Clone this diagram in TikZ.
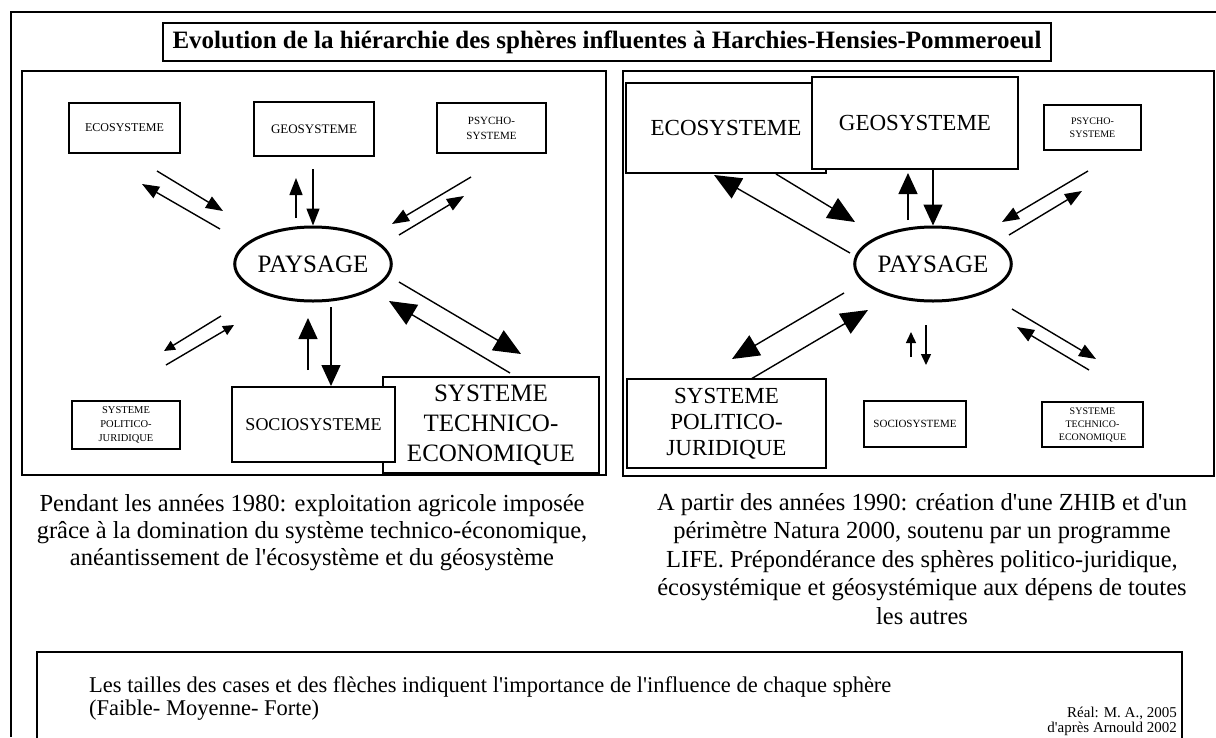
\documentclass[tikz,border=0pt]{standalone}
\usepackage{fontspec}
\setmainfont{Liberation Serif}[Ligatures=TeXOff]
\usetikzlibrary{arrows.meta,shapes.geometric}
\tikzset{
  frame/.style={draw, line width=1.5pt},
  sbox/.style={draw, line width=1.2pt, fill=white, inner sep=0pt, align=center},
  pays/.style={draw, ellipse, line width=3pt, inner sep=0pt, minimum width=156pt, minimum height=74pt, font=\fontsize{25}{25}\selectfont},
  lnk/.style={line width=1.4pt},
  tsm/.style={-{Triangle[length=11pt,width=10pt]}},
  tmd/.style={-{Triangle[length=17pt,width=13pt]}},
  tlg/.style={-{Triangle[length=21pt,width=19pt]}},
  tbg/.style={-{Triangle[length=27pt,width=23pt]}},
  captxt/.style={inner sep=0pt, align=center, anchor=north},
}
\begin{document}
\begin{tikzpicture}[x=1pt,y=-1pt]
\useasboundingbox (0,0) rectangle (1216,737);
% outer frame and panels
\draw[frame] (11,737) -- (11,12) -- (1216,12);
\node[draw, line width=1.5pt, inner sep=0pt, minimum width=888pt, minimum height=38pt,
      font=\fontsize{25}{25}\selectfont\bfseries] (title) at (607,42)
  {Evolution de la hiérarchie des sphères influentes à Harchies-Hensies-Pommeroeul};
\draw[frame] (22,71) rectangle (606,475);
\draw[frame] (623,71) rectangle (1214,476);
\draw[frame] (37,745) -- (37,652) -- (1182,652) -- (1182,745);

% ---------- left panel ----------
\node[sbox, minimum width=111pt, minimum height=50pt, font=\fontsize{12}{14}\selectfont] (Leco) at (124.5,128) {ECOSYSTEME};
\node[sbox, minimum width=120pt, minimum height=54pt, font=\fontsize{13}{15}\selectfont] (Lgeo) at (314,129) {GEOSYSTEME};
\node[sbox, minimum width=109pt, minimum height=50pt, font=\fontsize{11}{15}\selectfont] (Lpsy) at (491.5,128) {PSYCHO-\\SYSTEME};
\node[pays] (Lpay) at (313,264) {PAYSAGE};
\node[sbox, minimum width=108pt, minimum height=48pt, font=\fontsize{10.5}{14}\selectfont] (Lpol) at (126,425) {SYSTEME\\POLITICO-\\JURIDIQUE};
\node[sbox, minimum width=216pt, minimum height=96pt, font=\fontsize{25}{30}\selectfont] (Ltec) at (491,425) {SYSTEME\\TECHNICO-\\ECONOMIQUE};
\node[sbox, minimum width=163pt, minimum height=75pt, font=\fontsize{18}{18}\selectfont] (Lsoc) at (313.5,424.5) {SOCIOSYSTEME};

\coordinate (L1a) at (157,171); \coordinate (L1b) at (223,211);
\coordinate (L2a) at (220,229); \coordinate (L2b) at (142,184);
\coordinate (L3a) at (296,218); \coordinate (L3b) at (296,178);
\coordinate (L4a) at (313,169);
\coordinate (L5a) at (471,177); \coordinate (L5b) at (392,224);
\coordinate (L6a) at (399,235); \coordinate (L6b) at (464,196);
\coordinate (L7a) at (221,316); \coordinate (L7b) at (164,351);
\coordinate (L8a) at (166,365); \coordinate (L8b) at (234,325);
\coordinate (L9a) at (308,370); \coordinate (L9b) at (308,318);
\coordinate (L10a) at (331,307); \coordinate (L10b) at (331,386);
\coordinate (L11a) at (399,282); \coordinate (L11b) at (521,354);
\coordinate (L12a) at (510,373); \coordinate (L12b) at (389,301);

\draw[lnk,tmd] (L1a) -- (L1b);
\draw[lnk,tmd] (L2a) -- (L2b);
\draw[lnk,tmd] (L3a) -- (L3b);
\draw[lnk,tmd] (L4a) -- (Lpay.north);
\draw[lnk,tmd] (L5a) -- (L5b);
\draw[lnk,tmd] (L6a) -- (L6b);
\draw[lnk,tsm] (L7a) -- (L7b);
\draw[lnk,tsm] (L8a) -- (L8b);
\draw[lnk,tlg] (L9a) -- (L9b);
\draw[lnk,tlg] (L10a) -- (L10b);
\draw[lnk,tbg] (L11a) -- (L11b);
\draw[lnk,tbg] (L12a) -- (L12b);

% ---------- right panel ----------
\node[sbox, minimum width=200pt, minimum height=90pt, font=\fontsize{23}{23}\selectfont] (Reco) at (726,128) {ECOSYSTEME};
\node[sbox, minimum width=206pt, minimum height=92pt, font=\fontsize{23}{23}\selectfont] (Rgeo) at (915,123) {GEOSYSTEME};
\node[sbox, minimum width=97pt, minimum height=45pt, font=\fontsize{10}{13}\selectfont] (Rpsy) at (1092.5,127.5) {PSYCHO-\\SYSTEME};
\node[pays] (Rpay) at (933,264) {PAYSAGE};
\node[sbox, minimum width=199pt, minimum height=89pt, font=\fontsize{23}{26}\selectfont] (Rpol) at (726.5,423.5) {SYSTEME\\POLITICO-\\JURIDIQUE};
\node[sbox, minimum width=102pt, minimum height=46pt, font=\fontsize{11}{13}\selectfont] (Rsoc) at (915,424) {SOCIOSYSTEME};
\node[sbox, minimum width=101pt, minimum height=45pt, font=\fontsize{10}{13}\selectfont] (Rtec) at (1092.5,424.5) {SYSTEME\\TECHNICO-\\ECONOMIQUE};

\coordinate (R1a) at (850,253); \coordinate (R1b) at (714,175);
\coordinate (R2a) at (776,174); \coordinate (R2b) at (855,222);
\coordinate (R3a) at (908,220); \coordinate (R3b) at (908,173);
\coordinate (R4a) at (933,169);
\coordinate (R5a) at (1088,171); \coordinate (R5b) at (1002,222);
\coordinate (R6a) at (1009,235); \coordinate (R6b) at (1082,191);
\coordinate (R7a) at (844,293); \coordinate (R7b) at (732,359);
\coordinate (R8a) at (751,379); \coordinate (R8b) at (868,310);
\coordinate (R9a) at (911,357); \coordinate (R9b) at (911,332);
\coordinate (R10a) at (926,325); \coordinate (R10b) at (926,365);
\coordinate (R11a) at (1012,309); \coordinate (R11b) at (1096,359);
\coordinate (R12a) at (1089,370); \coordinate (R12b) at (1017,327);

\draw[lnk,tbg] (R1a) -- (R1b);
\draw[lnk,tbg] (R2a) -- (R2b);
\draw[lnk,tlg] (R3a) -- (R3b);
\draw[lnk,tlg] (R4a) -- (Rpay.north);
\draw[lnk,tmd] (R5a) -- (R5b);
\draw[lnk,tmd] (R6a) -- (R6b);
\draw[lnk,tbg] (R7a) -- (R7b);
\draw[lnk,tbg] (R8a) -- (R8b);
\draw[lnk,tsm] (R9a) -- (R9b);
\draw[lnk,tsm] (R10a) -- (R10b);
\draw[lnk,tmd] (R11a) -- (R11b);
\draw[lnk,tmd] (R12a) -- (R12b);

% ---------- captions ----------
\node[captxt, font=\fontsize{24.5}{27}\selectfont] (capL) at (312,494) {Pendant les années 1980: exploitation agricole imposée\\grâce à la domination du système technico-économique,\\anéantissement de l'écosystème et du géosystème};
\node[captxt, font=\fontsize{24.5}{28.5}\selectfont] (capR) at (922,493) {A partir des années 1990: création d'une ZHIB et d'un\\périmètre Natura 2000, soutenu par un programme\\LIFE. Prépondérance des sphères politico-juridique,\\écosystémique et géosystémique aux dépens de toutes\\les autres};

\node[inner sep=0pt, anchor=base west, font=\fontsize{22.5}{23}\selectfont] (note1) at (89,692) {Les tailles des cases et des flèches indiquent l'importance de l'influence de chaque sphère};
\node[inner sep=0pt, anchor=base west, font=\fontsize{22.5}{23}\selectfont] (note2) at (89,715) {(Faible- Moyenne- Forte)};
\node[inner sep=0pt, anchor=base east, font=\fontsize{15}{15}\selectfont] (real1) at (1177,717) {Réal: M. A., 2005};
\node[inner sep=0pt, anchor=base east, font=\fontsize{15}{15}\selectfont] (real2) at (1177,732) {d'après Arnould 2002};
\end{tikzpicture}
\end{document}
